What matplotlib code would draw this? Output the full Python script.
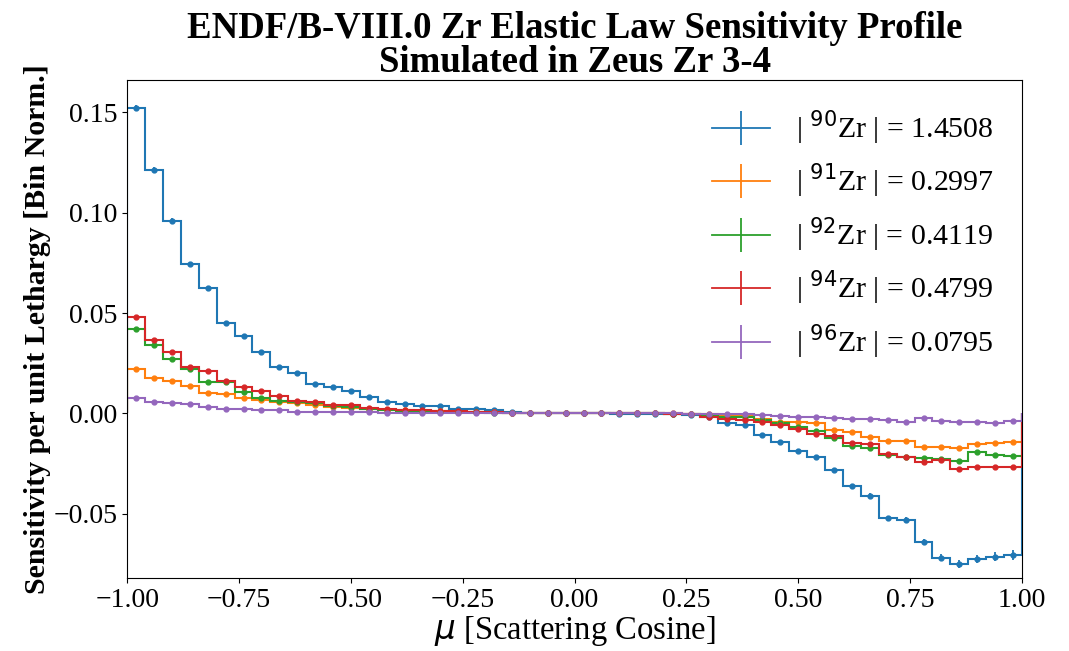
import numpy as np
import matplotlib
matplotlib.use("Agg")
import matplotlib.pyplot as plt
from matplotlib.lines import Line2D

plt.rcParams['font.family'] = ['Liberation Serif', 'DejaVu Serif']
plt.rcParams['mathtext.fontset'] = 'dejavusans'

# 50 equal bins in mu from -1 to 1
edges = np.linspace(-1.0, 1.0, 51)
centers = 0.5 * (edges[:-1] + edges[1:])

zr90 = [0.1520, 0.1212, 0.0960, 0.0744, 0.0626, 0.0451, 0.0387, 0.0307, 0.0229, 0.0199,
        0.0146, 0.0133, 0.0111, 0.0081, 0.0056, 0.0046, 0.0036, 0.0035, 0.0021, 0.0020,
        0.0016, 0.0006, 0.0004, 0.0003, 0.0002, 0.0001, 0.0000, -0.0001, -0.0002, -0.0003,
        -0.0004, -0.0008, -0.0020, -0.0050, -0.0058, -0.0105, -0.0141, -0.0185, -0.0218, -0.0283,
        -0.0362, -0.0409, -0.0523, -0.0532, -0.0640, -0.0718, -0.0752, -0.0724, -0.0713, -0.0703]
zr91 = [0.0222, 0.0174, 0.0161, 0.0138, 0.0100, 0.0096, 0.0075, 0.0066, 0.0058, 0.0053,
        0.0040, 0.0033, 0.0026, 0.0020, 0.0018, 0.0016, 0.0013, 0.0012, 0.0009, 0.0008,
        0.0005, 0.0003, 0.0002, 0.0001, 0.0001, 0.0000, 0.0000, 0.0000, 0.0000, 0.0000,
        0.0000, -0.0001, -0.0003, -0.0008, -0.0013, -0.0030, -0.0041, -0.0045, -0.0050, -0.0083,
        -0.0091, -0.0116, -0.0136, -0.0138, -0.0166, -0.0166, -0.0174, -0.0153, -0.0149, -0.0143]
zr92 = [0.0420, 0.0340, 0.0269, 0.0219, 0.0156, 0.0154, 0.0108, 0.0075, 0.0063, 0.0055,
        0.0050, 0.0036, 0.0030, 0.0021, 0.0016, 0.0011, 0.0010, 0.0008, 0.0007, 0.0005,
        0.0003, 0.0002, 0.0001, 0.0001, 0.0000, 0.0000, 0.0000, 0.0000, 0.0000, 0.0000,
        -0.0001, -0.0003, -0.0008, -0.0017, -0.0020, -0.0033, -0.0050, -0.0066, -0.0090, -0.0121,
        -0.0161, -0.0174, -0.0208, -0.0216, -0.0224, -0.0229, -0.0236, -0.0194, -0.0209, -0.0213]
zr94 = [0.0480, 0.0365, 0.0304, 0.0232, 0.0209, 0.0161, 0.0130, 0.0110, 0.0086, 0.0061,
        0.0058, 0.0043, 0.0041, 0.0025, 0.0021, 0.0016, 0.0015, 0.0012, 0.0010, 0.0008,
        0.0005, 0.0003, 0.0002, 0.0001, 0.0000, 0.0000, 0.0000, 0.0000, 0.0000, 0.0000,
        -0.0002, -0.0005, -0.0016, -0.0030, -0.0033, -0.0041, -0.0058, -0.0076, -0.0100, -0.0110,
        -0.0146, -0.0153, -0.0203, -0.0219, -0.0241, -0.0233, -0.0279, -0.0269, -0.0267, -0.0266]
zr96 = [0.0078, 0.0058, 0.0050, 0.0045, 0.0030, 0.0020, 0.0020, 0.0015, 0.0015, 0.0006,
        0.0006, 0.0006, 0.0006, 0.0005, 0.0004, 0.0004, 0.0003, 0.0003, 0.0002, 0.0002,
        0.0001, 0.0001, 0.0000, 0.0000, 0.0000, 0.0000, 0.0000, 0.0000, 0.0000, 0.0000,
        0.0000, -0.0001, -0.0003, -0.0004, -0.0002, -0.0008, -0.0012, -0.0017, -0.0017, -0.0022,
        -0.0030, -0.0030, -0.0033, -0.0041, -0.0022, -0.0037, -0.0041, -0.0041, -0.0046, -0.0037]

err90 = [0.0015, 0.0014, 0.0013, 0.0012, 0.0011, 0.0010, 0.0010, 0.0009, 0.0009, 0.0008,
         0.0008, 0.0007, 0.0007, 0.0007, 0.0006, 0.0006, 0.0006, 0.0006, 0.0006, 0.0006,
         0.0006, 0.0006, 0.0006, 0.0006, 0.0006, 0.0006, 0.0006, 0.0006, 0.0006, 0.0006,
         0.0006, 0.0006, 0.0007, 0.0007, 0.0008, 0.0008, 0.0009, 0.0009, 0.0010, 0.0011,
         0.0012, 0.0013, 0.0014, 0.0015, 0.0016, 0.0018, 0.0020, 0.0021, 0.0023, 0.0025]
err_small = 0.0005

labels = [r'| $^{90}$Zr | = 1.4508', r'| $^{91}$Zr | = 0.2997', r'| $^{92}$Zr | = 0.4119',
          r'| $^{94}$Zr | = 0.4799', r'| $^{96}$Zr | = 0.0795']
series = [zr90, zr91, zr92, zr94, zr96]
errors = [err90, err_small, err_small, err_small, err_small]
colors = ['tab:blue', 'tab:orange', 'tab:green', 'tab:red', 'tab:purple']

fig = plt.figure(figsize=(10.69, 6.51), dpi=100)
ax = fig.add_axes([0.119, 0.112, 0.837, 0.765])

handles = []
for vals, err, c, lab in zip(series, errors, colors, labels):
    ax.stairs(vals, edges, color=c, lw=1.5)
    ax.errorbar(centers, vals, yerr=err, fmt='.', color=c, ms=7, elinewidth=1.3)
    handles.append(Line2D([], [], color=c, lw=1.3, marker='|', ms=24, mew=1.3))

ax.set_xlim(-1, 1)
ax.set_ylim(-0.082, 0.166)
ax.set_xticks(np.arange(-1.0, 1.01, 0.25))
ax.set_yticks([-0.05, 0.0, 0.05, 0.10, 0.15])
ax.tick_params(labelsize=20)

ax.legend(handles, labels, loc='upper right', frameon=False, fontsize=21.5,
          labelspacing=0.5, handlelength=1.95, handletextpad=0.85, borderaxespad=0.55)

ax.set_title('ENDF/B-VIII.0 Zr Elastic Law Sensitivity Profile\nSimulated in Zeus Zr 3-4',
             fontsize=26.5, fontweight='bold', linespacing=0.95, pad=4)
ax.set_xlabel(r'$\mu$ [Scattering Cosine]', fontsize=23.5, labelpad=1)
ax.set_ylabel('Sensitivity per unit Lethargy [Bin Norm.]', fontsize=21.5, fontweight='bold',
              labelpad=2)

fig.savefig('out.png', dpi=100)
